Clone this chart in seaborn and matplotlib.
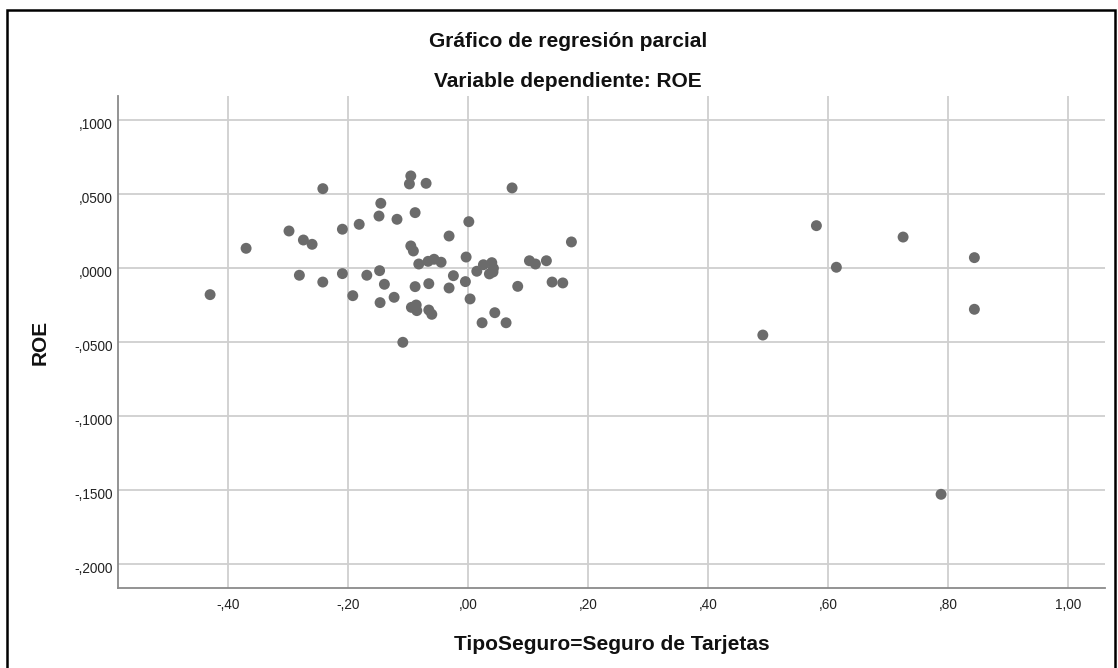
import matplotlib
matplotlib.use("Agg")
import matplotlib.pyplot as plt
import matplotlib.transforms as mtransforms
import seaborn as sns
import pandas as pd
from matplotlib.patches import Rectangle
from matplotlib.ticker import FuncFormatter, FixedLocator

# ---- data ----
tipo_seguro = [
    -0.2426, -0.1460, -0.1490, -0.1190, -0.2990, -0.1820, -0.2100, -0.3705,
    -0.2750, -0.2605, -0.4305, -0.2817, -0.2427, -0.2100, -0.1693, -0.1480,
    -0.1400, -0.1927, -0.1238, -0.1472, -0.1093,
    -0.0960, -0.0983, -0.0705, 0.0728, -0.0888, 0.0007, -0.0322, 0.1717,
    -0.0960, -0.0917, -0.0827, -0.0672, -0.0572, -0.0455, -0.0038, 0.0250,
    0.0140, 0.0390, 0.0417, 0.0350, 0.0410, 0.1017, 0.1117, 0.1300,
    -0.0250, -0.0050, -0.0322, -0.0660, -0.0888, 0.0822, 0.1395, 0.1573,
    0.0028, -0.0950, -0.0870, -0.0860, -0.0660, -0.0610, 0.0440, 0.0228,
    0.0628,
    0.5800, 0.6133, 0.7245, 0.8433, 0.8433, 0.4907, 0.7878,
]
roe = [
    0.0538, 0.0439, 0.0353, 0.0331, 0.0252, 0.0297, 0.0264, 0.0135,
    0.0191, 0.0162, -0.0178, -0.0047, -0.0093, -0.0036, -0.0047, -0.0016,
    -0.0108, -0.0185, -0.0196, -0.0232, -0.0500,
    0.0624, 0.0570, 0.0574, 0.0543, 0.0376, 0.0315, 0.0218, 0.0178,
    0.0151, 0.0117, 0.0029, 0.0047, 0.0061, 0.0041, 0.0076, 0.0024,
    -0.0020, 0.0038, 0.0000, -0.0038, -0.0025, 0.0051, 0.0029, 0.0051,
    -0.0050, -0.0090, -0.0133, -0.0104, -0.0124, -0.0122, -0.0093, -0.0099,
    -0.0207, -0.0264, -0.0248, -0.0286, -0.0282, -0.0311, -0.0300, -0.0368,
    -0.0368,
    0.0288, 0.0007, 0.0211, 0.0072, -0.0277, -0.0451, -0.1527,
]
x_ticks = [-0.4, -0.2, 0.0, 0.2, 0.4, 0.6, 0.8, 1.0]
y_ticks = [0.10, 0.05, 0.0, -0.05, -0.10, -0.15, -0.20]

title_line1 = "Gráfico de regresión parcial"
title_line2 = "Variable dependiente: ROE"
x_label = "TipoSeguro=Seguro de Tarjetas"
y_label = "ROE"

df = pd.DataFrame({"x": tipo_seguro, "y": roe})

sns.set_style("white")
plt.rcParams["font.family"] = ["Liberation Sans", "DejaVu Sans"]

W, H = 1118, 668
fig = plt.figure(figsize=(W / 100, H / 100), dpi=100)
ax = fig.add_axes([118 / W, 1 - 588 / H, (1105 - 118) / W, (588 - 96) / H])

sns.scatterplot(data=df, x="x", y="y", ax=ax, color="#6b6b6b",
                s=62, edgecolor="none", linewidth=0, zorder=3, legend=False)

ax.set_xlim(-0.584, 1.061)
ax.set_ylim(-0.216, 0.1164)

ax.xaxis.set_major_locator(FixedLocator(x_ticks))
ax.yaxis.set_major_locator(FixedLocator(y_ticks))


def _strip_zero(s):
    if s.startswith("-0,"):
        return "-" + s[2:]
    if s.startswith("0,"):
        return s[1:]
    return s


def fmt_x(v, pos):
    return _strip_zero(f"{v:.2f}".replace(".", ","))


def fmt_y(v, pos):
    return _strip_zero(f"{v:.4f}".replace(".", ","))


ax.xaxis.set_major_formatter(FuncFormatter(fmt_x))
ax.yaxis.set_major_formatter(FuncFormatter(fmt_y))

ax.grid(True, color="#cfcfcf", linewidth=1.3, zorder=0)
ax.set_axisbelow(True)
for side in ["top", "right"]:
    ax.spines[side].set_visible(False)
for side in ["left", "bottom"]:
    ax.spines[side].set_color("#8a8a8a")
    ax.spines[side].set_linewidth(1.3)

ax.tick_params(axis="both", length=0, labelsize=9.8, labelcolor="#222222")
ax.tick_params(axis="x", pad=7.5)
ax.tick_params(axis="y", pad=4)

# SPSS places the y tick labels slightly below their gridlines
offset = mtransforms.ScaledTranslation(0, -3 / 100, fig.dpi_scale_trans)
for lab in ax.get_yticklabels():
    lab.set_transform(lab.get_transform() + offset)

ax.set_xlabel(x_label, fontsize=15, fontweight="bold", color="#111111")
ax.xaxis.label.set_va("baseline")
ax.xaxis.set_label_coords(0.5, -(650 - 588) / 492)

ax.set_ylabel(y_label, fontsize=15, fontweight="bold", color="#111111")
ax.yaxis.label.set_va("center")
ax.yaxis.set_label_coords(-(118 - 40) / 987, 0.5)

fig.text(568 / W, 1 - 47 / H, title_line1, ha="center", va="baseline",
         fontsize=15, fontweight="bold", color="#111111")
fig.text(568 / W, 1 - 87 / H, title_line2, ha="center", va="baseline",
         fontsize=15, fontweight="bold", color="#111111")

# outer frame
fig.patches.append(Rectangle((7 / W, -0.05), (1115 - 7) / W, 1 - 10 / H + 0.05,
                             transform=fig.transFigure, fill=False,
                             edgecolor="black", linewidth=1.8))

fig.savefig("out.png", dpi=100, facecolor="white")
